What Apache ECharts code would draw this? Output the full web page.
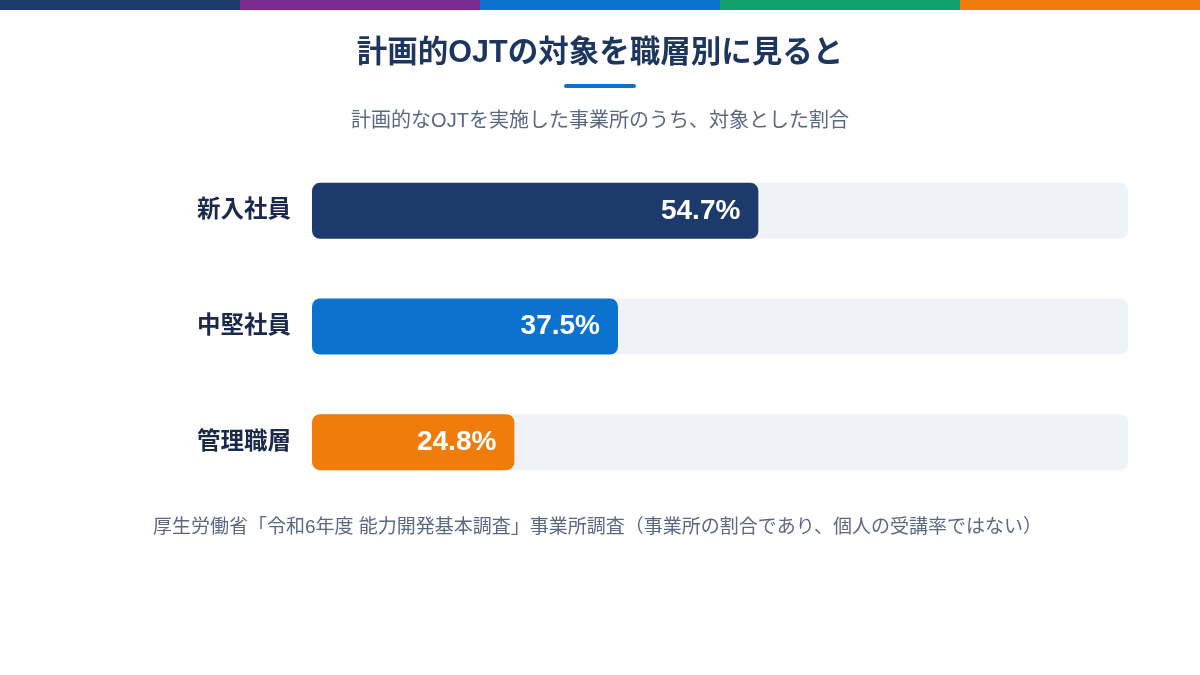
<!DOCTYPE html>
<html><head><meta charset="utf-8">
<script src="https://cdn.jsdelivr.net/npm/echarts@6/dist/echarts.min.js"></script>
<style>html,body{margin:0;padding:0;background:#fff}#c{width:1200px;height:675px}</style>
</head><body><div id="c"></div>
<script>
const categories = ['新入社員', '中堅社員', '管理職層'];
const values = [54.7, 37.5, 24.8];
const barColors = ['#1c3a6b', '#0b72cf', '#f07c0c'];
const stripeColors = ['#1c3a6b', '#7b2d8e', '#0b72cf', '#0fa06e', '#f07c0c'];
const titleText = '計画的OJTの対象を職層別に見ると';
const subtitleText = '計画的なOJTを実施した事業所のうち、対象とした割合';
const noteText = '厚生労働省「令和6年度 能力開発基本調査」事業所調査（事業所の割合であり、個人の受講率ではない）';

const FONT = '"Liberation Sans", "Noto Sans CJK JP", sans-serif';
const chart = echarts.init(document.getElementById('c'), null, {renderer: 'canvas'});

const graphics = stripeColors.map((c, i) => ({
  type: 'rect', left: i * 240, top: 0, shape: {width: 240, height: 10}, style: {fill: c}, silent: true
}));
graphics.push({type: 'rect', left: 564, top: 84, shape: {width: 72, height: 4, r: 2}, style: {fill: '#0b72cf'}});
graphics.push({type: 'text', left: 153, top: 518, style: {text: noteText, fill: '#5b6882', font: '19px ' + FONT}});

chart.setOption({
  backgroundColor: '#ffffff',
  title: [{
    text: titleText, left: 'center', top: 33,
    textStyle: {fontFamily: FONT, fontSize: 30.5, fontWeight: 'bold', color: '#1c3660'}
  }, {
    text: subtitleText, left: 'center', top: 106,
    textStyle: {fontFamily: FONT, fontSize: 20, fontWeight: 'normal', color: '#5b6882'}
  }],
  graphic: graphics,
  grid: {left: 312, right: 72, top: 153, bottom: 175},
  xAxis: {type: 'value', min: 0, max: 100, show: false},
  yAxis: {
    type: 'category', data: categories, inverse: true,
    axisLine: {show: false}, axisTick: {show: false},
    axisLabel: {margin: 21, fontFamily: FONT, fontSize: 23.5, fontWeight: 'bold', color: '#1b2a4a'}
  },
  series: [{
    type: 'bar', barWidth: 56,
    data: values.map((v, i) => ({value: v, itemStyle: {color: barColors[i]}})),
    itemStyle: {borderRadius: 8},
    showBackground: true,
    backgroundStyle: {color: '#eff3f8', borderRadius: 8},
    label: {
      show: true, position: 'insideRight', distance: 18,
      formatter: p => p.value.toFixed(1) + '%',
      fontFamily: FONT, fontSize: 28, fontWeight: 'bold', color: '#ffffff'
    },
    silent: true, animation: false
  }],
  animation: false
});
</script></body></html>
